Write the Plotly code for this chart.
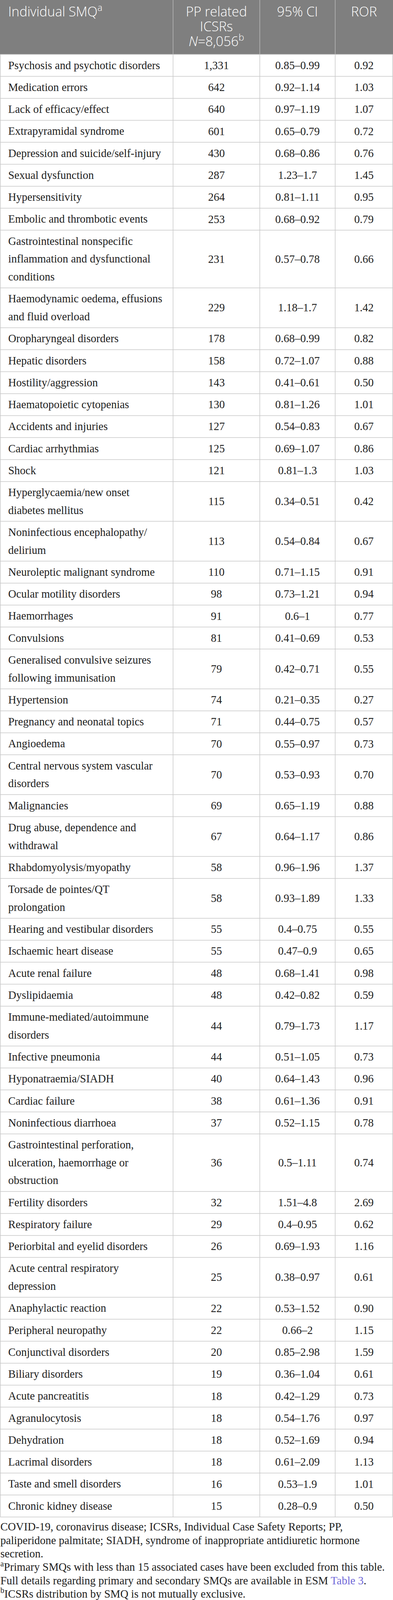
import plotly.graph_objects as go

# table content
smq = [
    "Psychosis and psychotic disorders",
    "Medication errors",
    "Lack of efficacy/effect",
    "Extrapyramidal syndrome",
    "Depression and suicide/self-injury",
    "Sexual dysfunction",
    "Hypersensitivity",
    "Embolic and thrombotic events",
    "Gastrointestinal nonspecific<br>inflammation and dysfunctional<br>conditions",
    "Haemodynamic oedema, effusions<br>and fluid overload",
    "Oropharyngeal disorders",
    "Hepatic disorders",
    "Hostility/aggression",
    "Haematopoietic cytopenias",
    "Accidents and injuries",
    "Cardiac arrhythmias",
    "Shock",
    "Hyperglycaemia/new onset<br>diabetes mellitus",
    "Noninfectious encephalopathy/<br>delirium",
    "Neuroleptic malignant syndrome",
    "Ocular motility disorders",
    "Haemorrhages",
    "Convulsions",
    "Generalised convulsive seizures<br>following immunisation",
    "Hypertension",
    "Pregnancy and neonatal topics",
    "Angioedema",
    "Central nervous system vascular<br>disorders",
    "Malignancies",
    "Drug abuse, dependence and<br>withdrawal",
    "Rhabdomyolysis/myopathy",
    "Torsade de pointes/QT<br>prolongation",
    "Hearing and vestibular disorders",
    "Ischaemic heart disease",
    "Acute renal failure",
    "Dyslipidaemia",
    "Immune-mediated/autoimmune<br>disorders",
    "Infective pneumonia",
    "Hyponatraemia/SIADH",
    "Cardiac failure",
    "Noninfectious diarrhoea",
    "Gastrointestinal perforation,<br>ulceration, haemorrhage or<br>obstruction",
    "Fertility disorders",
    "Respiratory failure",
    "Periorbital and eyelid disorders",
    "Acute central respiratory<br>depression",
    "Anaphylactic reaction",
    "Peripheral neuropathy",
    "Conjunctival disorders",
    "Biliary disorders",
    "Acute pancreatitis",
    "Agranulocytosis",
    "Dehydration",
    "Lacrimal disorders",
    "Taste and smell disorders",
    "Chronic kidney disease",
]
icsrs = ["1,331", "642", "640", "601", "430", "287", "264", "253", "231", "229",
         "178", "158", "143", "130", "127", "125", "121", "115", "113", "110",
         "98", "91", "81", "79", "74", "71", "70", "70", "69", "67",
         "58", "58", "55", "55", "48", "48", "44", "44", "40", "38",
         "37", "36", "32", "29", "26", "25", "22", "22", "20", "19",
         "18", "18", "18", "18", "16", "15"]
ci = ["0.85–0.99", "0.92–1.14", "0.97–1.19", "0.65–0.79", "0.68–0.86", "1.23–1.7",
      "0.81–1.11", "0.68–0.92", "0.57–0.78", "1.18–1.7", "0.68–0.99", "0.72–1.07",
      "0.41–0.61", "0.81–1.26", "0.54–0.83", "0.69–1.07", "0.81–1.3", "0.34–0.51",
      "0.54–0.84", "0.71–1.15", "0.73–1.21", "0.6–1", "0.41–0.69", "0.42–0.71",
      "0.21–0.35", "0.44–0.75", "0.55–0.97", "0.53–0.93", "0.65–1.19", "0.64–1.17",
      "0.96–1.96", "0.93–1.89", "0.4–0.75", "0.47–0.9", "0.68–1.41", "0.42–0.82",
      "0.79–1.73", "0.51–1.05", "0.64–1.43", "0.61–1.36", "0.52–1.15", "0.5–1.11",
      "1.51–4.8", "0.4–0.95", "0.69–1.93", "0.38–0.97", "0.53–1.52", "0.66–2",
      "0.85–2.98", "0.36–1.04", "0.42–1.29", "0.54–1.76", "0.52–1.69", "0.61–2.09",
      "0.53–1.9", "0.28–0.9"]
ror = ["0.92", "1.03", "1.07", "0.72", "0.76", "1.45", "0.95", "0.79", "0.66", "1.42",
       "0.82", "0.88", "0.50", "1.01", "0.67", "0.86", "1.03", "0.42", "0.67", "0.91",
       "0.94", "0.77", "0.53", "0.55", "0.27", "0.57", "0.73", "0.70", "0.88", "0.86",
       "1.37", "1.33", "0.55", "0.65", "0.98", "0.59", "1.17", "0.73", "0.96", "0.91",
       "0.78", "0.74", "2.69", "0.62", "1.16", "0.61", "0.90", "1.15", "1.59", "0.61",
       "0.73", "0.97", "0.94", "1.13", "1.01", "0.50"]

headers = ["Individual SMQ<sup>a</sup>",
           "PP related<br>ICSRs<br><i>N</i>=8,056<sup>b</sup>",
           "95% CI",
           "ROR"]

footnotes = [
    "COVID-19, coronavirus disease; ICSRs, Individual Case Safety Reports; PP,",
    "paliperidone palmitate; SIADH, syndrome of inappropriate antidiuretic hormone",
    "secretion.",
    "<sup>a</sup>Primary SMQs with less than 15 associated cases have been excluded from this table.",
    "Full details regarding primary and secondary SMQs are available in ESM "
    "<span style='color:#6f67d8'>Table 3</span>.",
    "<sup>b</sup>ICSRs distribution by SMQ is not mutually exclusive.",
]

# geometry (pixels of the 1006 x 4471 picture)
W, H = 1006, 4471
edges = [0.7, 443, 665, 858, 1005.3]
HEAD_H = 152
ROW_H = 61.4
LINE_H = 49.9
PAD = 21
SERIF = "Liberation Serif, Times New Roman, serif"
SANS = "Open Sans, Noto Sans, sans-serif"
GRID = "#c8c8c8"
BODY_SIZE = 28.5

centers = [(edges[i] + edges[i + 1]) / 2 for i in range(4)]

# row layout
rows = []
y = HEAD_H
for name in smq:
    n = name.count("<br>") + 1
    h = ROW_H + LINE_H * (n - 1)
    rows.append((y, h))
    y += h
table_bottom = y

fig = go.Figure()

# header
shapes = [dict(type="rect", x0=0, x1=W, y0=0, y1=HEAD_H, fillcolor="#7f7f7f",
               line=dict(width=0), layer="below")]
for xe in edges[1:-1]:
    shapes.append(dict(type="line", x0=xe, x1=xe, y0=0, y1=HEAD_H,
                       line=dict(color="#bdbdbd", width=1.4)))

hx, hy, ht, hpos = [], [], [], []
hx.append(PAD); hy.append(37); ht.append(headers[0]); hpos.append("middle right")
for k, part in enumerate(headers[1].split("<br>")):
    hx.append(centers[1]); hy.append(37 + 41.4 * k); ht.append(part); hpos.append("middle center")
for c in (2, 3):
    hx.append(centers[c]); hy.append(37); ht.append(headers[c]); hpos.append("middle center")
fig.add_trace(go.Scatter(x=hx, y=hy, text=ht, mode="text", textposition=hpos,
                         textfont=dict(family=SANS, size=34, color="white", weight=300),
                         hoverinfo="skip", cliponaxis=False, showlegend=False))

# body grid
for y0, h in rows:
    shapes.append(dict(type="line", x0=edges[0], x1=edges[-1], y0=y0 + h, y1=y0 + h,
                       line=dict(color=GRID, width=1.5)))
for xe in edges:
    shapes.append(dict(type="line", x0=xe, x1=xe, y0=HEAD_H, y1=table_bottom,
                       line=dict(color=GRID, width=1.5)))
shapes.append(dict(type="line", x0=edges[0], x1=edges[-1], y0=HEAD_H, y1=HEAD_H,
                   line=dict(color=GRID, width=1.5)))

# body text
lx, ly, lt = [], [], []
nx, ny, nt = [], [], []
for (y0, h), name, a, b, c in zip(rows, smq, icsrs, ci, ror):
    for k, part in enumerate(name.split("<br>")):
        lx.append(PAD); ly.append(y0 + 33 + LINE_H * k); lt.append(part)
    for col, val in zip((1, 2, 3), (a, b, c)):
        nx.append(centers[col]); ny.append(y0 + h / 2 + 2.5); nt.append(val)

fig.add_trace(go.Scatter(x=lx, y=ly, text=lt, mode="text", textposition="middle right",
                         textfont=dict(family=SERIF, size=BODY_SIZE, color="#1e1e1e"),
                         hoverinfo="skip", cliponaxis=False, showlegend=False))
fig.add_trace(go.Scatter(x=nx, y=ny, text=nt, mode="text", textposition="middle center",
                         textfont=dict(family=SERIF, size=BODY_SIZE, color="#1e1e1e"),
                         hoverinfo="skip", cliponaxis=False, showlegend=False))

# footnotes
fy0 = table_bottom + 30
fig.add_trace(go.Scatter(x=[1] * len(footnotes),
                         y=[fy0 + 37.6 * k for k in range(len(footnotes))],
                         text=footnotes, mode="text", textposition="middle right",
                         textfont=dict(family=SERIF, size=BODY_SIZE, color="#1e1e1e"),
                         hoverinfo="skip", cliponaxis=False, showlegend=False))

fig.update_layout(
    width=W, height=H,
    margin=dict(l=0, r=0, t=0, b=0),
    paper_bgcolor="white", plot_bgcolor="white",
    shapes=shapes,
    xaxis=dict(range=[0, W], visible=False, fixedrange=True),
    yaxis=dict(range=[H, 0], visible=False, fixedrange=True),
)

# fit the page to the visible window (no body margin, height = viewport)
fit = ("document.body.style.margin='0';"
       "var gd=document.getElementById('{plot_id}');"
       "var vh=window.innerHeight;"
       "if(vh>1000){Plotly.relayout(gd,{height:vh});}")
fig.write_html("out.html", post_script=fit, config={"displayModeBar": False})
